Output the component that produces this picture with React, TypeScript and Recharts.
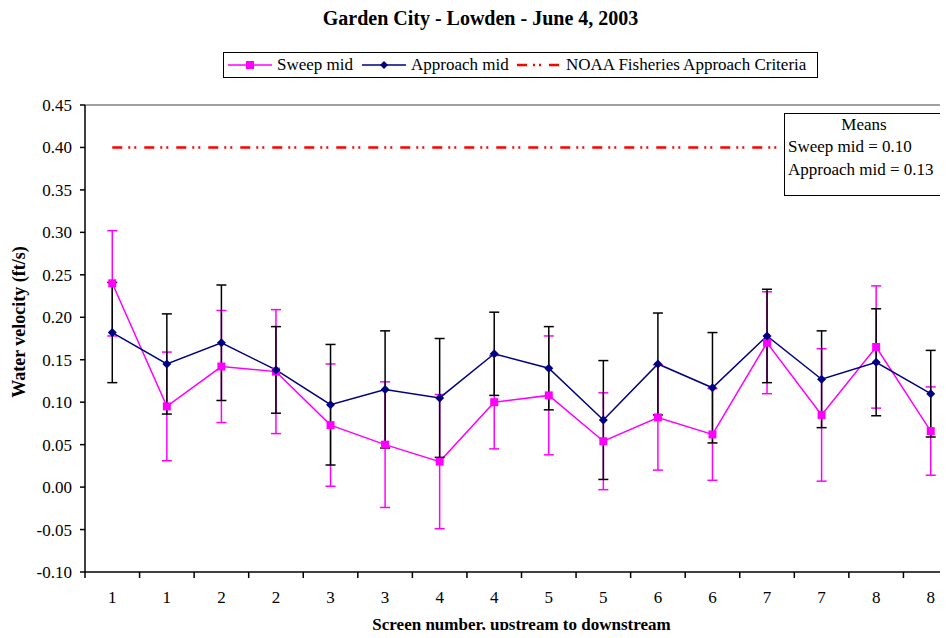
import { ErrorBar, Line, LineChart, ReferenceLine, XAxis, YAxis } from 'recharts'

const CATEGORIES = ['1', '1', '2', '2', '3', '3', '4', '4', '5', '5', '6', '6', '7', '7', '8', '8']
const SWEEP_MID = [0.24, 0.095, 0.142, 0.136, 0.073, 0.05, 0.03, 0.1, 0.108, 0.054, 0.082, 0.062, 0.17, 0.085, 0.165, 0.066]
const SWEEP_ERR = [0.062, 0.064, 0.066, 0.073, 0.072, 0.074, 0.079, 0.055, 0.07, 0.057, 0.062, 0.054, 0.06, 0.078, 0.072, 0.052]
const APPROACH_MID = [0.182, 0.145, 0.17, 0.138, 0.097, 0.115, 0.105, 0.157, 0.14, 0.079, 0.145, 0.117, 0.178, 0.127, 0.147, 0.11]
const APPROACH_ERR = [0.059, 0.059, 0.068, 0.051, 0.071, 0.069, 0.07, 0.049, 0.049, 0.07, 0.06, 0.065, 0.055, 0.057, 0.063, 0.051]
const CRITERIA = [0.4, 0.4, 0.4, 0.4, 0.4, 0.4, 0.4, 0.4, 0.4, 0.4, 0.4, 0.4, 0.4, 0.4, 0.4, 0.4]
const Y_TICKS = [-0.1, -0.05, 0, 0.05, 0.1, 0.15, 0.2, 0.25, 0.3, 0.35, 0.4, 0.45]

const PINK = '#FF00FF'
const NAVY = '#000080'
const RED = '#FF0000'
const FONT = '"Liberation Serif", "Times New Roman", serif'

const CHART_W = 970
const CHART_H = 638
const Y_AXIS_W = 85
const MARGIN = { top: 105, right: 12, bottom: 26, left: 0 }
const STEP = (CHART_W - MARGIN.right - MARGIN.left - Y_AXIS_W) / CATEGORIES.length

const data = CATEGORIES.map((label, i) => ({
  x: i + 1,
  label,
  sweep: SWEEP_MID[i],
  sweepErr: SWEEP_ERR[i],
  approach: APPROACH_MID[i],
  approachErr: APPROACH_ERR[i],
  criteria: CRITERIA[i],
}))

// tick marks sit between categories, labels in the middle of each slot
const X_BOUNDS = CATEGORIES.map((_, i) => i + 0.5).concat(CATEGORIES.length + 0.5)

const mean = (arr: number[]) => arr.reduce((a, b) => a + b, 0) / arr.length

function XTick(props: any) {
  const { x, y, payload } = props
  const idx = Math.round(payload.value - 0.5)
  if (idx >= CATEGORIES.length) return <g />
  return (
    <text x={x + STEP / 2} y={y} dy="0.71em" textAnchor="middle" fill="#000" style={{ fontFamily: FONT, fontSize: 17 }}>
      {CATEGORIES[idx]}
    </text>
  )
}

function YTick(props: any) {
  const { x, y, payload } = props
  return (
    <text x={x} y={y} dy="0.355em" textAnchor="end" fill="#000" style={{ fontFamily: FONT, fontSize: 17 }}>
      {Number(payload.value).toFixed(2)}
    </text>
  )
}

function SquareDot(props: any) {
  const { cx, cy, index } = props
  if (cx == null || cy == null) return <g key={`sq-${index}`} />
  return <rect key={`sq-${index}`} x={cx - 4} y={cy - 4} width={8} height={8} fill={PINK} />
}

function DiamondDot(props: any) {
  const { cx, cy, index } = props
  if (cx == null || cy == null) return <g key={`dm-${index}`} />
  const r = 4.5
  return <path key={`dm-${index}`} d={`M${cx},${cy - r}L${cx + r},${cy}L${cx},${cy + r}L${cx - r},${cy}Z`} fill={NAVY} />
}

type Kind = 'sweep' | 'approach' | 'criteria'

function Swatch({ kind }: { kind: Kind }) {
  return (
    <svg width={44} height={12} style={{ display: 'block' }}>
      {kind === 'sweep' && (
        <>
          <line x1={0} y1={6} x2={44} y2={6} stroke={PINK} strokeWidth={1.5} />
          <rect x={18} y={2} width={8} height={8} fill={PINK} />
        </>
      )}
      {kind === 'approach' && (
        <>
          <line x1={0} y1={6} x2={44} y2={6} stroke={NAVY} strokeWidth={1.5} />
          <path d="M22,2L26,6L22,10L18,6Z" fill={NAVY} />
        </>
      )}
      {kind === 'criteria' && (
        <line x1={0} y1={6} x2={44} y2={6} stroke={RED} strokeWidth={2.5} strokeDasharray="10 6 2 4 2 8" />
      )}
    </svg>
  )
}

const LEGEND_ITEMS: { kind: Kind; label: string; left: number }[] = [
  { kind: 'sweep', label: 'Sweep mid', left: 4 },
  { kind: 'approach', label: 'Approach mid', left: 138 },
  { kind: 'criteria', label: 'NOAA Fisheries Approach Criteria', left: 293 },
]

export default function App() {
  return (
    <div
      style={{
        position: 'relative',
        width: 948,
        height: 638,
        margin: -8,
        overflow: 'hidden',
        background: '#fff',
        fontFamily: FONT,
        color: '#000',
      }}
    >
      <div style={{ position: 'absolute', left: 0, top: 0 }}>
        <LineChart width={CHART_W} height={CHART_H} data={data} margin={MARGIN} style={{ fontFamily: FONT }}>
          <XAxis
            type="number"
            dataKey="x"
            domain={[0.5, CATEGORIES.length + 0.5]}
            ticks={X_BOUNDS}
            interval={0}
            tick={<XTick />}
            tickSize={6}
            tickMargin={13}
            height={40}
            axisLine={{ stroke: '#000', strokeWidth: 1.5 }}
            tickLine={{ stroke: '#000', strokeWidth: 1.5 }}
          />
          <YAxis
            type="number"
            domain={[-0.1, 0.45]}
            ticks={Y_TICKS}
            interval={0}
            width={Y_AXIS_W}
            tickSize={5}
            tickMargin={8}
            tick={<YTick />}
            axisLine={{ stroke: '#000', strokeWidth: 1.5 }}
            tickLine={{ stroke: '#000', strokeWidth: 1.5 }}
          />
          <ReferenceLine y={0.45} stroke="#A0A0A0" strokeWidth={2} />
          <Line
            dataKey="criteria"
            stroke={RED}
            strokeWidth={2.5}
            strokeDasharray="10 6 2 4 2 8"
            dot={false}
            activeDot={false}
            isAnimationActive={false}
          />
          <Line
            dataKey="sweep"
            stroke={PINK}
            strokeWidth={1.5}
            dot={<SquareDot />}
            activeDot={false}
            isAnimationActive={false}
          >
            <ErrorBar dataKey="sweepErr" direction="y" width={5} stroke={PINK} strokeWidth={1.5} isAnimationActive={false} />
          </Line>
          <Line
            dataKey="approach"
            stroke={NAVY}
            strokeWidth={1.5}
            dot={<DiamondDot />}
            activeDot={false}
            isAnimationActive={false}
          >
            <ErrorBar dataKey="approachErr" direction="y" width={5} stroke="#000" strokeWidth={1.5} isAnimationActive={false} />
          </Line>
        </LineChart>
      </div>

      <div
        style={{
          position: 'absolute',
          left: 0,
          width: 961,
          top: 6,
          textAlign: 'center',
          fontSize: 20,
          fontWeight: 'bold',
          lineHeight: '24px',
        }}
      >
        Garden City - Lowden - June 4, 2003
      </div>

      <div
        style={{
          position: 'absolute',
          left: 223,
          top: 52,
          width: 593,
          height: 24,
          border: '1px solid #000',
          fontSize: 17,
          whiteSpace: 'nowrap',
          boxSizing: 'content-box',
          background: '#fff',
        }}
      >
        {LEGEND_ITEMS.map((item) => (
          <div
            key={item.kind}
            style={{ position: 'absolute', left: item.left, top: 0, height: 24, display: 'flex', alignItems: 'center' }}
          >
            <Swatch kind={item.kind} />
            <span style={{ marginLeft: 5 }}>{item.label}</span>
          </div>
        ))}
      </div>

      <div
        style={{
          position: 'absolute',
          left: 19,
          top: 322,
          transform: 'translate(-50%, -50%) rotate(-90deg)',
          whiteSpace: 'nowrap',
          fontSize: 18,
          fontWeight: 'bold',
        }}
      >
        Water velocity (ft/s)
      </div>

      <div
        style={{
          position: 'absolute',
          left: 0,
          width: 1043,
          top: 615,
          textAlign: 'center',
          fontSize: 17,
          fontWeight: 'bold',
          lineHeight: '20px',
        }}
      >
        Screen number, upstream to downstream
      </div>

      <div
        style={{
          position: 'absolute',
          left: 784,
          top: 113,
          width: 159,
          height: 81,
          border: '1px solid #000',
          background: '#fff',
          fontSize: 17,
          lineHeight: '22.4px',
          paddingLeft: 3,
          boxSizing: 'content-box',
        }}
      >
        <div style={{ textAlign: 'center', paddingRight: 7 }}>Means</div>
        <div>Sweep mid = {mean(SWEEP_MID).toFixed(2)}</div>
        <div>Approach mid = {mean(APPROACH_MID).toFixed(2)}</div>
      </div>
    </div>
  )
}
